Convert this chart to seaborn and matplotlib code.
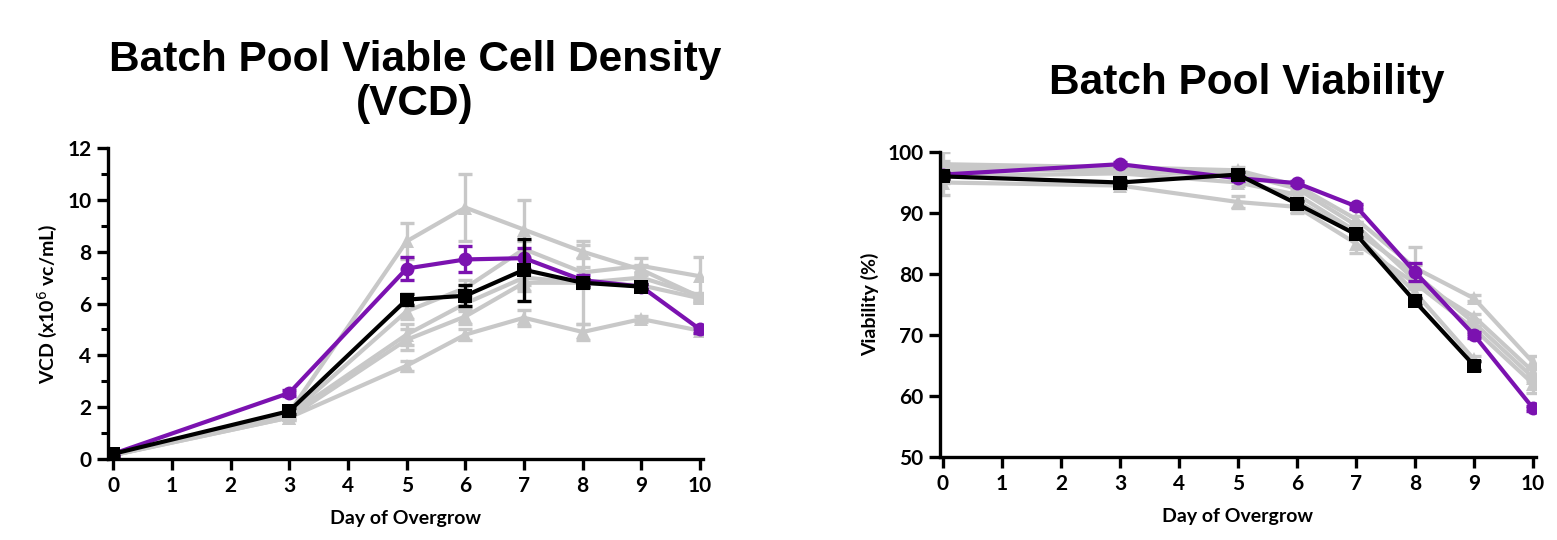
import numpy as np
import pandas as pd
import matplotlib
matplotlib.use("Agg")
import matplotlib.pyplot as plt
import seaborn as sns
from matplotlib.ticker import MultipleLocator

sns.set_theme(style="white")
plt.rcParams['font.family'] = ['Lato', 'DejaVu Sans']
plt.rcParams['text.color'] = 'black'
plt.rcParams['axes.labelcolor'] = 'black'
plt.rcParams['xtick.color'] = 'black'
plt.rcParams['ytick.color'] = 'black'

# ---------------- data ----------------
days = [0, 3, 5, 6, 7, 8, 9, 10]

# VCD (x10^6 vc/mL)
vcd_purple = [0.2, 2.55, 7.35, 7.7, 7.75, 6.9, 6.65, 5.0]
vcd_purple_err = [0.1, 0.1, 0.45, 0.5, 0.4, 0.2, 0.1, 0.15]
vcd_black = [0.2, 1.85, 6.15, 6.3, 7.3, 6.8, 6.65, np.nan]
vcd_black_err = [0.1, 0.1, 0.2, 0.4, 1.2, 0.15, 0.1, np.nan]
vcd_gray = [
    [0.15, 1.8, 8.4, 9.7, 8.85, 8.0, 7.3, 6.25],
    [0.15, 1.7, 5.7, 6.6, 8.1, 7.2, 7.45, 7.05],
    [0.15, 1.7, 4.8, 6.0, 7.0, 6.8, 7.0, 6.3],
    [0.15, 1.6, 4.6, 5.5, 6.8, 6.8, 6.7, 6.2],
    [0.15, 1.6, 3.6, 4.8, 5.45, 4.9, 5.4, 4.95],
]
vcd_gray_err = [
    [0.1, 0.1, 0.7, 1.3, 1.15, 0.25, 0.2, 0.1],
    [0.1, 0.1, 0.3, 0.3, 0.3, 0.2, 0.3, 0.75],
    [0.1, 0.1, 0.4, 0.3, 0.3, 1.6, 0.2, 0.1],
    [0.1, 0.1, 0.4, 0.3, 0.3, 0.2, 0.2, 0.1],
    [0.1, 0.1, 0.2, 0.2, 0.3, 0.3, 0.1, 0.1],
]

# Viability (%)
via_purple = [96.3, 98.0, 95.7, 94.9, 91.1, 80.3, 70.0, 58.0]
via_purple_err = [0.5, 0.3, 0.4, 0.3, 0.4, 1.5, 0.5, 0.4]
via_black = [96.0, 95.0, 96.3, 91.5, 86.5, 75.5, 65.0, np.nan]
via_black_err = [0.5, 0.4, 0.4, 0.5, 0.5, 0.5, 0.8, np.nan]
via_gray = [
    [98.0, 97.5, 97.0, 94.5, 89.0, 81.0, 76.0, 65.5],
    [97.0, 97.0, 96.5, 94.0, 88.0, 79.0, 73.0, 64.0],
    [95.0, 94.5, 91.8, 91.0, 85.0, 78.5, 71.0, 62.0],
    [96.0, 96.5, 95.0, 93.0, 87.0, 80.0, 72.0, 63.0],
    [97.5, 97.0, 96.0, 92.0, 86.5, 77.0, 66.0, np.nan],
]
via_gray_err = [
    [2.0, 0.5, 0.5, 0.5, 0.5, 0.5, 0.5, 1.0],
    [1.0, 0.5, 0.5, 0.5, 0.5, 0.5, 0.5, 1.0],
    [2.0, 0.5, 1.0, 1.0, 1.5, 0.5, 0.5, 1.5],
    [1.0, 0.5, 0.5, 0.5, 0.5, 4.5, 0.5, 0.5],
    [1.0, 0.5, 0.5, 0.5, 0.5, 0.5, 0.5, np.nan],
]

title_left = "Batch Pool Viable Cell Density\n(VCD)"
title_right = "Batch Pool Viability"
xlabel = "Day of Overgrow"
ylabel_left = r"VCD (x10$^{6}$ vc/mL)"
ylabel_right = "Viability (%)"

GRAY = "#c8c8c8"
PURPLE = "#7b12b0"
BLACK = "#000000"
LW = 3.0

fig = plt.figure(figsize=(15.57, 5.4), dpi=100)
axL = fig.add_axes([108/1557, 1-459/540, 595/1557, 311/540])
axR = fig.add_axes([940/1557, 1-457/540, 596/1557, 305/540])


def draw_series(ax, y, err, color, marker, ms, z):
    df = pd.DataFrame({"day": days, "val": y, "err": err}).dropna()
    ax.errorbar(df["day"], df["val"], yerr=df["err"], fmt="none",
                ecolor=color, elinewidth=2.4, capsize=5, capthick=2.4, zorder=z)
    sns.lineplot(data=df, x="day", y="val", ax=ax, color=color, lw=LW,
                 marker=marker, markersize=ms, markeredgewidth=0,
                 zorder=z + 0.5, legend=False)


def style_axis(ax, ylim, ymajor, yminor, xleft):
    ax.set_xlim(xleft, 10.05)
    ax.set_ylim(*ylim)
    ax.set_xticks(range(0, 11))
    ax.yaxis.set_major_locator(MultipleLocator(ymajor))
    if yminor:
        ax.yaxis.set_minor_locator(MultipleLocator(yminor))
    for s in ["top", "right"]:
        ax.spines[s].set_visible(False)
    for s in ["left", "bottom"]:
        ax.spines[s].set_color("black")
        ax.spines[s].set_linewidth(2.4)
    ax.tick_params(axis="both", which="major", direction="out", length=8,
                   width=2.4, color="black", labelsize=15, pad=4,
                   bottom=True, left=True)
    ax.tick_params(axis="y", which="minor", direction="out", length=5,
                   width=2.2, color="black", left=True)
    for lab in ax.get_xticklabels() + ax.get_yticklabels():
        lab.set_fontweight("bold")
    ax.set_xlabel(xlabel, fontsize=14, fontweight="bold", labelpad=10)
    ax.grid(False)


# Left: VCD
for y, e in zip(vcd_gray, vcd_gray_err):
    draw_series(axL, y, e, GRAY, "^", 10, 2)
draw_series(axL, vcd_purple, vcd_purple_err, PURPLE, "o", 10, 4)
draw_series(axL, vcd_black, vcd_black_err, BLACK, "s", 10, 6)
style_axis(axL, (0, 12), 2, 1, -0.09)
axL.set_ylabel(ylabel_left, fontsize=14, fontweight="bold", labelpad=6)

# Right: Viability
for y, e in zip(via_gray, via_gray_err):
    draw_series(axR, y, e, GRAY, "^", 10, 2)
draw_series(axR, via_purple, via_purple_err, PURPLE, "o", 10, 4)
draw_series(axR, via_black, via_black_err, BLACK, "s", 10, 6)
style_axis(axR, (50, 100), 10, None, -0.05)
axR.set_ylabel(ylabel_right, fontsize=14, fontweight="bold", labelpad=6)

for a in (axL, axR):
    for sp in a.spines.values():
        sp.set_zorder(10)

fig.text(415/1557, 1-82/540, title_left, ha="center", va="center",
         fontsize=30.5, fontweight="bold", family="Liberation Sans",
         linespacing=1.1, color="black")
fig.text(1247/1557, 1-83/540, title_right, ha="center", va="center",
         fontsize=30.5, fontweight="bold", family="Liberation Sans",
         color="black")

fig.savefig("out.png", dpi=100, facecolor="white")
